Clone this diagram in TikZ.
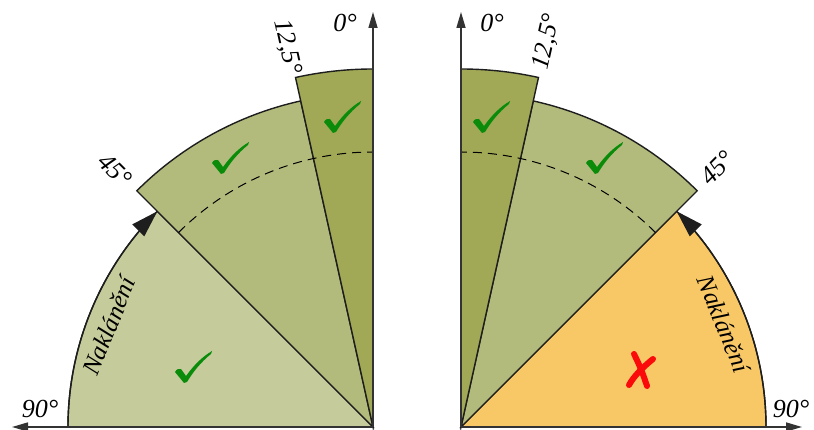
\documentclass[tikz,border=0pt]{standalone}
\usepackage{fontspec}
\setmainfont{Liberation Serif}
\usetikzlibrary{arrows.meta,calc}
\definecolor{lightg}{RGB}{197,203,154}
\definecolor{midg}{RGB}{179,187,124}
\definecolor{darkg}{RGB}{161,169,86}
\definecolor{orng}{RGB}{249,200,102}
\definecolor{chkgreen}{RGB}{10,140,10}
\definecolor{xred}{RGB}{250,10,10}
\definecolor{edge}{RGB}{30,30,30}
\tikzset{
  sector/.style={draw=edge, line width=1.4pt, line join=miter},
  axis/.style={draw=black!80, line width=1.5pt, -{Triangle[length=16pt,width=9pt]}},
  tilt/.style={draw=edge, line width=1.4pt},
  tiphead/.style={fill=edge},
  dash arc/.style={draw=black, line width=1pt, dash pattern=on 9pt off 6pt},
  lbl/.style={font=\fontsize{26}{30}\selectfont\itshape, inner sep=0pt},
  nak/.style={font=\fontsize{25}{30}\selectfont\itshape, inner sep=0pt},
  chk/.pic={\fill[chkgreen] (-10,10) .. controls (-8,13) .. (-4,13) -- (1,6)
     .. controls (9,17) and (17,25) .. (27,31) -- (26,28)
     .. controls (16,20) and (8,10) .. (2,0) -- (-1,-1) -- cycle;},
}
\begin{document}
\begin{tikzpicture}[x=1pt,y=1pt]
\useasboundingbox (0,0) rectangle (814,430);
\coordinate (cl) at (373,3);
\coordinate (cr) at (461,3);
% ---------- left ----------
\path[sector, fill=lightg] (cl) -- ++(180:305) arc (180:135:305) -- cycle;
\path[sector, fill=midg] (cl) -- ++(135:334) arc (135:102.5:334) -- cycle;
\path[sector, fill=darkg] (cl) -- ++(102.5:358) arc (102.5:90:358) -- cycle;
\draw[dash arc] ([shift={(135:275)}]cl) arc (135:90:275);
\draw[tilt] ([shift={(180:305)}]cl) arc (180:140:305);
\coordinate (tl) at ([shift={(135:305)}]cl);
\coordinate (bl) at ($(tl)+(-135:27)$);
\fill[tiphead] (tl) -- ($(bl)+(135:8.5)$) -- ($(bl)+(-45:8.5)$) -- cycle;
\draw[axis] (cl) -- (12,3) coordinate (axl);
\draw[axis] (cl) -- (373,418) coordinate (ayl);
\node[lbl] (l90) at (40,21) {90°};
\node[lbl] (l0) at (345,407) {0°};
\node[lbl, rotate=-77.5] (l125) at (287,383) {12,5°};
\node[lbl, rotate=-45] (l45) at (115,260) {45°};
\node[nak, rotate=68] (lnak) at (109,104) {Naklánění};
\pic at (185,48) {chk};
\pic at (222,257) {chk};
\pic at (334,298) {chk};
% ---------- right ----------
\path[sector, fill=orng] (cr) -- ++(0:305) arc (0:45:305) -- cycle;
\path[sector, fill=midg] (cr) -- ++(45:334) arc (45:77.5:334) -- cycle;
\path[sector, fill=darkg] (cr) -- ++(77.5:358) arc (77.5:90:358) -- cycle;
\draw[dash arc] ([shift={(45:275)}]cr) arc (45:90:275);
\draw[tilt] ([shift={(0:305)}]cr) arc (0:40:305);
\coordinate (tr) at ([shift={(45:305)}]cr);
\coordinate (br) at ($(tr)+(-45:27)$);
\fill[tiphead] (tr) -- ($(br)+(45:8.5)$) -- ($(br)+(-135:8.5)$) -- cycle;
\draw[axis] (cr) -- (802,3) coordinate (axr);
\draw[axis] (cr) -- (461,418) coordinate (ayr);
\node[lbl] (r90) at (791,21) {90°};
\node[lbl] (r0) at (492,407) {0°};
\node[lbl, rotate=77.5] (r125) at (547,388) {12,5°};
\node[lbl, rotate=45] (r45) at (717,262) {45°};
\node[nak, rotate=-68] (rnak) at (724,106) {Naklánění};
\pic at (483,298) {chk};
\pic at (596,257) {chk};
\draw[xred, line width=6pt, line cap=round] (634,76) .. controls (640,64) and (643,56) .. (647,44);
\draw[xred, line width=6pt, line cap=round] (653,71) .. controls (642,62) and (634,54) .. (629,45);
\end{tikzpicture}
\end{document}
